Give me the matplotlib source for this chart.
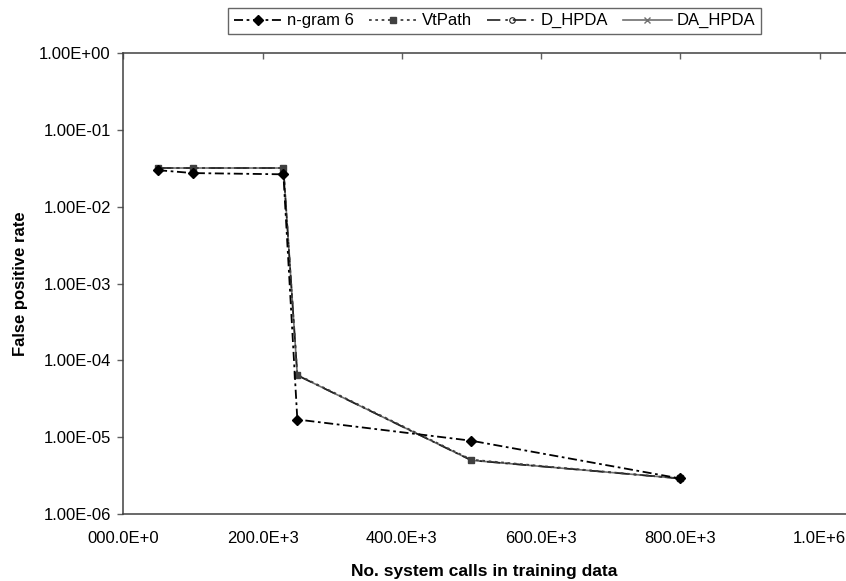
import numpy as np
import matplotlib
matplotlib.use("Agg")
import matplotlib.pyplot as plt
from matplotlib.ticker import FixedLocator, FixedFormatter

plt.rcParams['font.family'] = ['Liberation Sans', 'DejaVu Sans']

# training set sizes (no. system calls)
calls = [50e3, 100e3, 230e3, 250e3, 500e3, 800e3]

ngram6 = [3.0e-2, 2.75e-2, 2.65e-2, 1.7e-5, 9.0e-6, 2.9e-6]
vtpath = [3.2e-2, 3.2e-2, 3.2e-2, 6.5e-5, 5.1e-6, 2.9e-6]
d_hpda = [3.2e-2, 3.2e-2, 3.2e-2, 6.4e-5, 5.0e-6, 2.9e-6]
da_hpda = [3.2e-2, 3.2e-2, 3.2e-2, 6.4e-5, 5.0e-6, 2.9e-6]

xticks = [0, 200e3, 400e3, 600e3, 800e3, 1e6]
xlabels = ["000.0E+0", "200.0E+3", "400.0E+3", "600.0E+3", "800.0E+3", "1.0E+6"]
yticks = [1e-6, 1e-5, 1e-4, 1e-3, 1e-2, 1e-1, 1e0]
ylabels = ["1.00E-06", "1.00E-05", "1.00E-04", "1.00E-03", "1.00E-02", "1.00E-01", "1.00E+00"]

fig = plt.figure(figsize=(8.46, 5.81), dpi=100)
ax = fig.add_axes([0.1457, 0.1153, 1 - 0.1457, 0.9084 - 0.1153])

ax.plot(calls, da_hpda, color='#707070', lw=1.2, ls='-', marker='x', ms=5,
        mew=1, label='DA_HPDA', zorder=2)
ax.plot(calls, d_hpda, color='#202020', lw=1.2, ls=(0, (8, 3, 1.5, 3)),
        marker='o', ms=4, mfc='none', mec='#202020', mew=0.8,
        label='D_HPDA', zorder=3)
ax.plot(calls, vtpath, color='#404040', lw=1.3, ls=(0, (1.5, 2)),
        marker='s', ms=5, mfc='#404040', mec='#404040', label='VtPath', zorder=4)
ax.plot(calls, ngram6, color='black', lw=1.3, ls=(0, (5, 2, 1.5, 2)),
        marker='D', ms=5, mfc='black', mec='black', label='n-gram 6', zorder=5)

ax.set_yscale('log')
ax.set_ylim(1e-6, 1)
ax.set_xlim(0, 1038e3)

ax.yaxis.set_major_locator(FixedLocator(yticks))
ax.yaxis.set_major_formatter(FixedFormatter(ylabels))
ax.yaxis.set_minor_locator(FixedLocator([]))
ax.xaxis.set_major_locator(FixedLocator(xticks))
ax.xaxis.set_major_formatter(FixedFormatter(xlabels))

ax.tick_params(axis='x', top=True, bottom=False, labeltop=False,
               labelbottom=True, direction='in', length=4, width=1,
               color='#606060', labelsize=12, pad=12)
ax.tick_params(axis='y', direction='out', length=4, width=1,
               color='#606060', labelsize=12, pad=5)

for s in ['left', 'top', 'bottom']:
    ax.spines[s].set_color('#404040')
    ax.spines[s].set_linewidth(1.1)
ax.spines['right'].set_visible(False)

ax.set_xlabel("No. system calls in training data", fontsize=12.5, fontweight='bold',
              labelpad=13)
ax.set_ylabel("False positive rate", fontsize=12, fontweight='bold', labelpad=8)

handles, labels = ax.get_legend_handles_labels()
order = [3, 2, 1, 0]
leg = fig.legend([handles[i] for i in order], [labels[i] for i in order],
                 loc='center', bbox_to_anchor=(0.5845, 0.964), ncol=4,
                 fontsize=12, frameon=True, fancybox=False, numpoints=1,
                 handlelength=2.9, handletextpad=0.3, columnspacing=0.9,
                 borderpad=0.35, borderaxespad=0)
leg.get_frame().set_edgecolor('#404040')
leg.get_frame().set_linewidth(1)

fig.savefig("out.png", dpi=100)
